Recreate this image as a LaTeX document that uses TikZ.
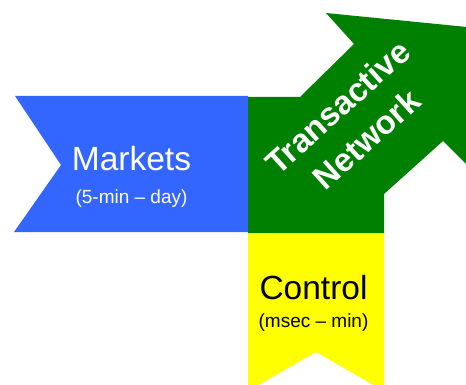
\documentclass[tikz,border=0pt]{standalone}
\usepackage{fontspec}
\setmainfont{Liberation Sans}
\usetikzlibrary{positioning}
\definecolor{mktblue}{RGB}{51,102,255}
\definecolor{netgreen}{RGB}{0,128,0}
\definecolor{ctlyellow}{RGB}{255,255,0}
\newcommand{\subsize}{\fontsize{19}{22}\selectfont}

\begin{document}
\begin{tikzpicture}[x=1pt,y=-1pt]
			\tikzset{boxtext/.style = {align=center, inner sep=0pt, font=\fontsize{33.5}{29}\selectfont}}
			\tikzset{arrowtext/.style = {align=center, inner sep=0pt, text=white, rotate=42, font=\bfseries\fontsize{33}{37}\selectfont}}
			\useasboundingbox (0,0) rectangle (466,385);
			\clip (0,0) rectangle (466,385);
			% markets flag
			\fill[mktblue] (15,96) -- (248,96) -- (248,232) -- (14,232) -- (61,165) -- cycle;
			% control flag
			\fill[ctlyellow] (248,233) -- (384,233) -- (384,391) -- (316,352) -- (248,391) -- cycle;
			% network arrow
			\fill[netgreen] (248,97) -- (300,97) -- (354,44) -- (326,13) -- (467,27) -- (473,171)
				-- (443,141) -- (384,194) -- (384,233) -- (248,233) -- cycle;
			\node[boxtext, text=white] (MARKETS) at (131.5,177)
			{Markets \\[4pt]
				{\subsize (5-min – day)}};
			\node[boxtext, text=black] (CONTROL) at (313.5,303)
			{Control \\[-1pt]
				{\subsize (msec – min)}};
			\node[arrowtext] (NETWORK) at (352,123)
			{Transactive \\[6pt]
				Network};
\end{tikzpicture}
\end{document}
